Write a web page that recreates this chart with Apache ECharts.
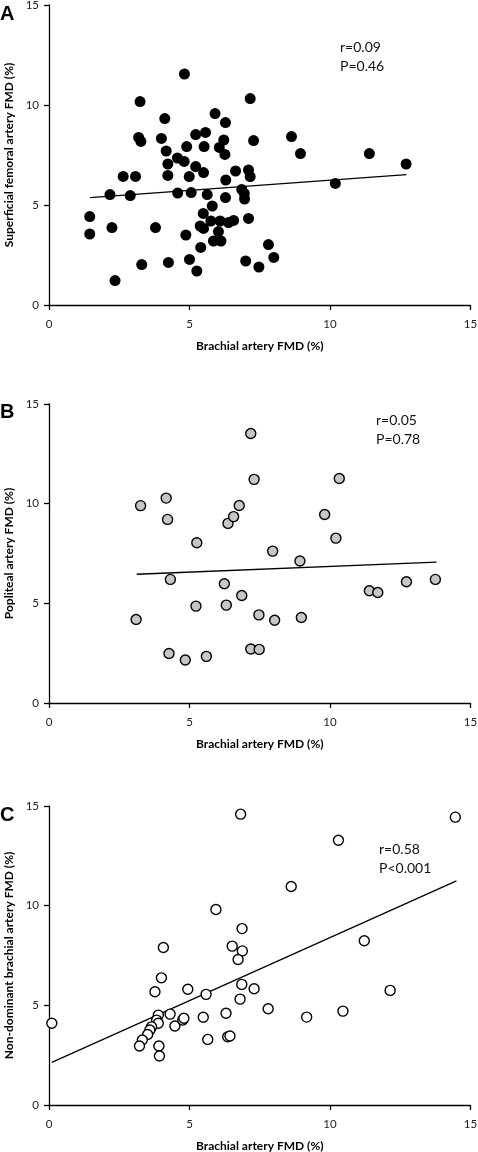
<!DOCTYPE html>
<html>
<head>
<meta charset="utf-8">
<script src="https://cdn.jsdelivr.net/npm/echarts@6/dist/echarts.min.js"></script>
<style>
html,body{margin:0;padding:0;background:#fff;}
#main{width:478px;height:1152px;}
</style>
</head>
<body>
<div id="main"></div>
<script>
// Panel A: brachial FMD (x) vs superficial femoral artery FMD (y)
const pointsA = [
  [4.82,11.55],[3.24,10.17],[4.12,9.32],[5.91,9.57],[6.28,9.12],[3.19,8.38],[3.27,8.18],[4.0,8.33],
  [5.22,8.52],[5.57,8.63],[6.22,8.25],[4.17,7.7],[4.9,7.92],[5.52,7.92],[6.06,7.88],[6.26,7.53],
  [4.57,7.35],[4.81,7.18],[4.23,7.05],[5.22,6.92],[5.5,6.62],[6.64,6.7],[7.16,10.32],[8.63,8.42],
  [7.28,8.22],[8.95,7.57],[11.4,7.57],[12.71,7.05],[2.64,6.43],[3.08,6.43],[4.23,6.48],[4.99,6.42],
  [6.29,6.25],[2.17,5.52],[2.89,5.47],[4.58,5.6],[5.06,5.62],[5.63,5.52],[6.28,5.37],[1.45,4.42],
  [1.45,3.55],[2.24,3.87],[3.79,3.87],[4.87,3.5],[5.49,4.58],[5.81,4.95],[5.38,3.95],[5.5,3.83],
  [5.76,4.2],[6.09,4.2],[6.39,4.12],[6.57,4.23],[6.03,3.67],[5.85,3.2],[6.12,3.2],[5.4,2.88],
  [3.3,2.02],[4.25,2.13],[5.0,2.28],[5.26,1.7],[2.35,1.22],[7.1,6.75],[7.16,6.42],[6.86,5.78],
  [6.95,5.58],[6.96,5.3],[10.19,6.08],[7.1,4.33],[7.81,3.02],[8.0,2.38],[7.0,2.2],[7.47,1.9]
];
const fitA = [[1.46,5.37],[12.72,6.52]];

// Panel B: brachial FMD (x) vs popliteal artery FMD (y)
const pointsB = [
  [3.26,9.9],[4.17,10.28],[4.22,9.21],[5.26,8.04],[6.37,9.01],[6.57,9.35],[6.77,9.91],[7.18,13.52],
  [7.3,11.22],[10.33,11.26],[9.81,9.46],[10.21,8.27],[7.96,7.62],[8.93,7.12],[4.32,6.2],[6.24,5.98],
  [6.86,5.39],[5.23,4.86],[6.31,4.91],[3.1,4.19],[7.47,4.42],[8.03,4.15],[8.98,4.29],[11.4,5.63],
  [11.7,5.54],[12.72,6.08],[13.75,6.2],[4.27,2.48],[4.85,2.16],[5.6,2.34],[7.18,2.71],[7.48,2.69]
];
const fitB = [[3.12,6.46],[13.79,7.07]];

// Panel C: brachial FMD (x) vs non-dominant brachial artery FMD (y)
const pointsC = [
  [5.94,9.81],[6.82,14.59],[10.3,13.28],[14.46,14.44],[8.62,10.96],[6.87,8.85],[11.22,8.24],
  [0.1,4.1],[4.07,7.9],[4.0,6.38],[3.77,5.68],[4.94,5.81],[5.59,5.55],[6.52,7.97],[3.89,4.51],
  [3.83,4.26],[3.89,4.1],[3.65,3.92],[3.59,3.76],[3.51,3.54],[3.32,3.26],[3.22,2.96],[3.91,2.96],
  [3.93,2.46],[4.31,4.56],[4.48,3.96],[4.76,4.26],[4.8,4.35],[5.49,4.4],[5.65,3.29],[6.3,4.6],
  [6.36,3.42],[6.44,3.46],[6.88,7.73],[6.73,7.3],[6.86,6.05],[7.3,5.83],[6.8,5.31],[7.8,4.83],
  [9.17,4.41],[10.46,4.71],[12.14,5.75]
];
const fitC = [[0.1,2.14],[14.5,11.24]];

const xTicks = [0,5,10,15];
const yTicks = [0,5,10,15];
const xName = 'Brachial artery FMD (%)';
const yNames = ['Superficial femoral artery FMD (%)','Popliteal artery FMD (%)','Non-dominant brachial artery FMD (%)'];
const panelLetters = ['A','B','C'];
const statsText = ['r=0.09\nP=0.46','r=0.05\nP=0.78','r=0.58\nP<0.001'];

const FONT = 'Lato, "Open Sans", sans-serif';
const grids = [
  {left:49, width:421.5, top:5, height:300, containLabel:false, outerBoundsMode:'none'},
  {left:49, width:421.5, top:404, height:299, containLabel:false, outerBoundsMode:'none'},
  {left:49, width:421.5, top:806, height:299, containLabel:false, outerBoundsMode:'none'}
];

function xAxis(i){
  return {
    gridIndex:i, type:'value', min:xTicks[0], max:xTicks[xTicks.length-1], interval:5,
    name:xName, nameLocation:'middle', nameGap:35,
    nameTextStyle:{fontFamily:FONT, fontWeight:'bold', fontSize:12, color:'#000'},
    axisLine:{show:true, onZero:false, lineStyle:{color:'#000', width:1.3}},
    axisTick:{show:true, inside:false, length:5, lineStyle:{color:'#000', width:1.3}},
    axisLabel:{fontFamily:FONT, fontSize:11.5, color:'#222', margin:13},
    splitLine:{show:false}
  };
}
function yAxis(i){
  return {
    gridIndex:i, type:'value', min:yTicks[0], max:yTicks[yTicks.length-1], interval:5,
    name:yNames[i], nameLocation:'middle', nameGap:27,
    nameTextStyle:{fontFamily:FONT, fontWeight:'bold', fontSize:12, color:'#000'},
    axisLine:{show:true, onZero:false, lineStyle:{color:'#000', width:1.3}},
    axisTick:{show:true, inside:false, length:5, lineStyle:{color:'#000', width:1.3}},
    axisLabel:{fontFamily:FONT, fontSize:11.5, color:'#222', margin:10},
    splitLine:{show:false}
  };
}

const scatterStyles = [
  {symbolSize:11, itemStyle:{color:'#000', borderColor:'#000', borderWidth:0, opacity:1}},
  {symbolSize:10, itemStyle:{color:'#c6c6c6', borderColor:'#000', borderWidth:1.4, opacity:1}},
  {symbolSize:10, itemStyle:{color:'#fff', borderColor:'#000', borderWidth:1.4, opacity:1}}
];
const pts = [pointsA, pointsB, pointsC];
const fits = [fitA, fitB, fitC];

const series = [];
for (let i=0;i<3;i++){
  series.push({
    type:'line', xAxisIndex:i, yAxisIndex:i, data:fits[i], symbol:'none',
    lineStyle:{color:'#000', width:1.3}, silent:true, z:1, animation:false
  });
  series.push(Object.assign({
    type:'scatter', xAxisIndex:i, yAxisIndex:i, data:pts[i], symbol:'circle', z:2, animation:false
  }, scatterStyles[i]));
}

const letterTops = [4, 402, 805];
const statsPos = [[340,38],[376,411],[379,840]];
const graphic = [];
for (let i=0;i<3;i++){
  graphic.push({type:'text', left:0, top:letterTops[i],
    style:{text:panelLetters[i], font:'bold 20px Arial, "Liberation Sans", sans-serif', fill:'#000'}});
  graphic.push({type:'text', left:statsPos[i][0], top:statsPos[i][1],
    style:{text:statsText[i], font:'14px '+FONT, fill:'#111', lineHeight:19}});
}

const chart = echarts.init(document.getElementById('main'), null, {renderer:'canvas'});
chart.setOption({
  animation:false,
  backgroundColor:'#fff',
  grid:grids,
  xAxis:[0,1,2].map(xAxis),
  yAxis:[0,1,2].map(yAxis),
  series:series,
  graphic:graphic
});
</script>
</body>
</html>
